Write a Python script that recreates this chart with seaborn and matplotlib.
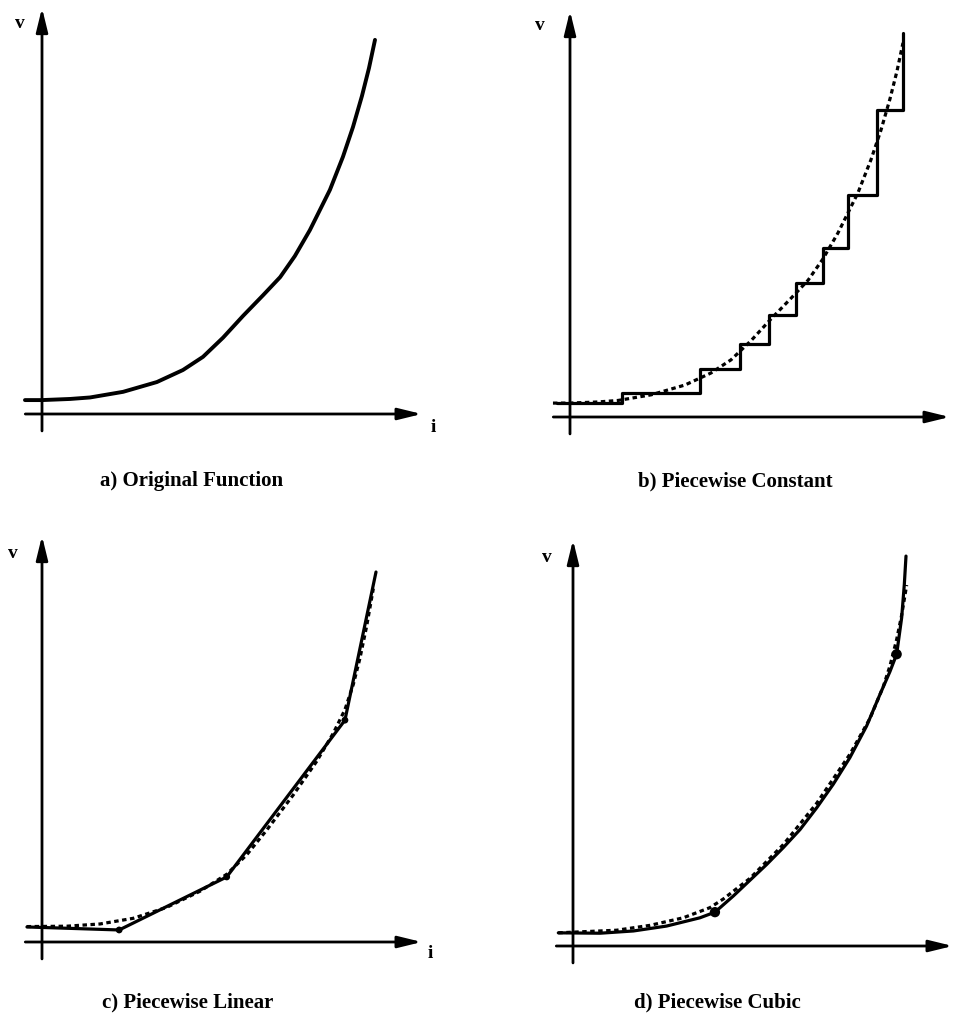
import matplotlib.pyplot as plt
import pandas as pd
import seaborn as sns

# values; i: 33.4 px per unit, v: 37.6 px per unit
orig_i = [-0.51, 0.0, 0.84, 1.44, 2.43, 3.44, 4.22, 4.82, 5.42, 6.02, 6.62,
          7.13, 7.57, 8.02, 8.62, 9.01, 9.31, 9.58, 9.79, 9.97]
orig_v = [0.37, 0.37, 0.40, 0.44, 0.59, 0.85, 1.17, 1.52, 2.03, 2.61, 3.16,
          3.64, 4.20, 4.89, 5.96, 6.84, 7.63, 8.46, 9.20, 9.95]

# b) piecewise constant (step starts)
const_i = [-0.39, 1.56, 3.89, 5.09, 5.96, 6.77, 7.57, 8.32, 9.19, 9.97]
const_v = [0.37, 0.64, 1.28, 1.94, 2.71, 3.56, 4.49, 5.90, 8.17, 10.21]

# c) piecewise linear, with the dotted original as drawn in that panel
linear_i = [-0.45, 2.31, 5.53, 9.07, 10.0]
linear_v = [0.40, 0.32, 1.73, 5.90, 9.84]
linear_knot_i = [2.31, 5.53, 9.07]
linear_knot_v = [0.32, 1.73, 5.90]
linear_ref_i = [-0.46, 0.74, 1.74, 2.73, 3.73, 4.73, 5.53, 6.13, 6.73, 7.53,
                8.22, 8.72, 9.07, 9.32, 9.52, 9.72, 9.92]
linear_ref_v = [0.41, 0.42, 0.48, 0.63, 0.92, 1.35, 1.80, 2.32, 2.98, 3.92,
                4.80, 5.55, 6.18, 6.85, 7.55, 8.40, 9.40]

# d) piecewise cubic, with the dotted original as drawn in that panel
cubic_i = [-0.44, 0.81, 1.81, 2.80, 3.80, 4.25, 4.80, 5.30, 5.80, 6.30, 6.80,
           7.30, 7.79, 8.29, 8.79, 9.19, 9.49, 9.69, 9.84, 9.92, 9.97]
cubic_v = [0.35, 0.34, 0.40, 0.53, 0.75, 0.90, 1.33, 1.75, 2.17, 2.62, 3.10,
           3.68, 4.30, 5.01, 5.85, 6.69, 7.30, 7.76, 8.73, 9.62, 10.37]
cubic_knot_i = [4.25, 9.69]
cubic_knot_v = [0.90, 7.76]
cubic_ref_i = [-0.44, 1.31, 2.31, 3.30, 4.10, 4.50, 5.30, 6.30, 7.30, 8.29,
               8.89, 9.29, 9.49, 9.69, 9.84, 9.99]
cubic_ref_v = [0.35, 0.42, 0.55, 0.75, 1.02, 1.25, 1.80, 2.70, 3.80, 5.10,
               6.05, 6.90, 7.45, 8.15, 8.80, 9.60]

captions = ["a) Original Function", "b) Piecewise Constant",
            "c) Piecewise Linear", "d) Piecewise Cubic"]

W, H = 960, 1027
PX_I, PX_V = 33.4, 37.6
DASH = (0, (1.4, 1.1))

sns.set_theme(style="white")
plt.rcParams["font.family"] = ["Liberation Serif", "DejaVu Serif"]

fig = plt.figure(figsize=(W / 100, H / 100), dpi=100)
fig.patch.set_facecolor("white")


def make_axes(ox, oy):
    # axes whose data origin sits on pixel (ox, oy)
    x0, x1 = -1.3, 12.0
    y0, y1 = -0.9, 11.2
    left = ox + x0 * PX_I
    bottom = oy - y0 * PX_V
    ax = fig.add_axes([left / W, 1 - bottom / H,
                       (x1 - x0) * PX_I / W, (y1 - y0) * PX_V / H])
    ax.set_xlim(x0, x1)
    ax.set_ylim(y0, y1)
    ax.axis("off")
    arrow = dict(arrowstyle="-|>,head_length=0.9,head_width=0.22",
                 mutation_scale=16, lw=2.0, color="black",
                 shrinkA=0, shrinkB=0)
    ax.annotate("", xy=(11.37, 0), xytext=(-0.5, 0), arrowprops=arrow)
    ax.annotate("", xy=(0, 10.8), xytext=(0, -0.45), arrowprops=arrow)
    return ax


def label(x, y, s, size=14, weight="bold"):
    fig.text(x / W, 1 - y / H, s, ha="center", va="center",
             fontsize=size, fontweight=weight, color="black")


orig = pd.DataFrame({"i": orig_i, "v": orig_v})

# a) original function
ax = make_axes(42, 414)
sns.lineplot(data=orig, x="i", y="v", ax=ax, color="black", lw=2.8)

# b) piecewise constant
ax = make_axes(570, 417)
sns.lineplot(data=orig, x="i", y="v", ax=ax, color="black", lw=2.3, linestyle=DASH)
sns.lineplot(x=const_i, y=const_v, ax=ax, color="black", lw=2.3,
             drawstyle="steps-post")

# c) piecewise linear
ax = make_axes(42, 942)
sns.lineplot(x=linear_ref_i, y=linear_ref_v, ax=ax, color="black", lw=2.3,
             linestyle=DASH)
sns.lineplot(x=linear_i, y=linear_v, ax=ax, color="black", lw=2.3)
sns.scatterplot(x=linear_knot_i, y=linear_knot_v, ax=ax, color="black", s=24,
                edgecolor="none")

# d) piecewise cubic
ax = make_axes(573, 946)
sns.lineplot(x=cubic_ref_i, y=cubic_ref_v, ax=ax, color="black", lw=2.3,
             linestyle=DASH)
sns.lineplot(x=cubic_i, y=cubic_v, ax=ax, color="black", lw=2.3)
sns.scatterplot(x=cubic_knot_i, y=cubic_knot_v, ax=ax, color="black", s=55,
                edgecolor="none")

# axis letters
label(20, 23, "v")
label(433, 427, "i")
label(540, 25, "v")
label(13, 553, "v")
label(430, 953, "i")
label(547, 558, "v")

# captions
label(192, 481, captions[0], size=15)
label(735, 481, captions[1], size=15)
label(188, 1002, captions[2], size=15)
label(717, 1002, captions[3], size=15)

fig.savefig("out.png", dpi=100)
